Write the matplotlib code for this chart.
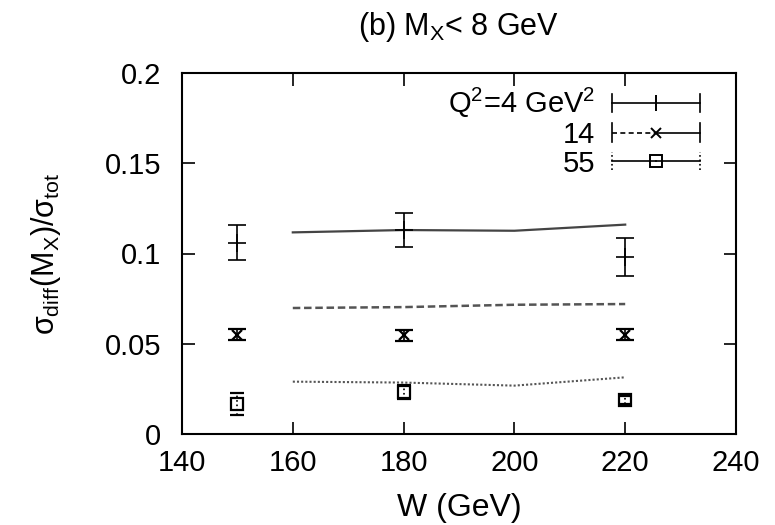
import matplotlib
matplotlib.use("Agg")
import matplotlib.pyplot as plt
from matplotlib.lines import Line2D
from matplotlib.legend_handler import HandlerBase

plt.rcParams['font.family'] = ['Liberation Sans', 'DejaVu Sans']
plt.rcParams['mathtext.fontset'] = 'custom'
plt.rcParams['mathtext.rm'] = 'Liberation Sans'
plt.rcParams['mathtext.it'] = 'Liberation Sans'

# ---- data ----
W_points = [150, 180, 220]
q4_vals = [0.106, 0.113, 0.098]
q4_errs = [0.0097, 0.0095, 0.0106]
q14_vals = [0.0550, 0.0548, 0.0550]
q14_errs = [0.0030, 0.0030, 0.0030]
q55_vals = [0.0165, 0.0234, 0.0188]
q55_errs = [0.0060, 0.0040, 0.0020]

W_curve = [160, 180, 200, 220]
q4_curve = [0.1117, 0.1130, 0.1126, 0.1160]
q14_curve = [0.0698, 0.0703, 0.0716, 0.0720]
q55_curve = [0.0290, 0.0285, 0.0268, 0.0314]

labels = [r'Q$^2$=4 GeV$^2$', '14', '55']
x_ticks = [140, 160, 180, 200, 220, 240]
y_ticks = [0, 0.05, 0.1, 0.15, 0.2]
y_ticklabels = ['0', '0.05', '0.1', '0.15', '0.2']

fig = plt.figure(figsize=(7.75, 5.25), dpi=100)
ax = fig.add_axes([182/775, (525-434)/525, (736-182)/775, (434-73)/525])

lw = 1.2
# theory curves
ax.plot(W_curve, q4_curve, color='#444444', lw=1.6, ls='-')
ax.plot(W_curve, q14_curve, color='#555555', lw=1.8, ls=(0, (3, 1.5)))
ax.plot(W_curve, q55_curve, color='#555555', lw=1.5, ls=(0, (1, 1)))

# data with error bars
ax.errorbar(W_points, q4_vals, yerr=q4_errs, fmt='+', color='black', ms=13,
            mew=lw, elinewidth=lw, capsize=6.5, capthick=lw)
ax.errorbar(W_points, q14_vals, yerr=q14_errs, fmt='x', color='black', ms=7,
            mew=1.6, elinewidth=lw, capsize=6.5, capthick=lw)
eb = ax.errorbar(W_points, q55_vals, yerr=q55_errs, fmt='s', color='black', ms=9,
                 mfc='none', mew=1.6, elinewidth=lw, capsize=5, capthick=lw)
eb[2][0].set_linestyle(':')


class Spec:
    def __init__(self, marker, ms, capL, halfL, halfR, capR):
        self.marker, self.ms = marker, ms
        self.capL, self.halfL, self.halfR, self.capR = capL, halfL, halfR, capR


class SpecHandler(HandlerBase):
    def create_artists(self, legend, h, xdescent, ydescent, width, height,
                       fontsize, trans):
        y = height / 2 - ydescent
        x0, x1 = -xdescent, width - xdescent
        xm = (x0 + x1) / 2
        ch = 6.5
        arts = [
            Line2D([x0, x0], [y - ch, y + ch], ls=h.capL, color='black', lw=lw),
            Line2D([x0, xm], [y, y], ls=h.halfL, color='black', lw=lw),
            Line2D([xm, x1], [y, y], ls=h.halfR, color='black', lw=lw),
            Line2D([x1, x1], [y - ch, y + ch], ls=h.capR, color='black', lw=lw),
            Line2D([xm], [y], marker=h.marker, ms=h.ms, mfc='none', mec='black',
                   mew=1.4, ls='none'),
        ]
        for a in arts:
            a.set_transform(trans)
        return arts


FS = 21
handles = [Spec('|', 12, '-', '-', '-', '-'),
           Spec('x', 7, '-', (0, (3, 2)), '-', '-'),
           Spec('s', 8, ':', '-', '-', ':')]
leg = ax.legend(handles, labels, handler_map={Spec: SpecHandler()},
                loc='upper right', bbox_to_anchor=(0.935, 0.965),
                frameon=False, markerfirst=False, fontsize=FS,
                handlelength=3.0, handletextpad=0.6, labelspacing=0.03,
                borderpad=0, borderaxespad=0)

ax.set_xlim(140, 240)
ax.set_ylim(0, 0.2)
ax.set_xticks(x_ticks)
ax.set_yticks(y_ticks)
ax.set_yticklabels(y_ticklabels)
ax.tick_params(direction='in', length=9, width=1.2, top=True, right=True,
               labelsize=FS)
ax.tick_params(axis='x', pad=11)
ax.tick_params(axis='y', pad=15)
for s in ax.spines.values():
    s.set_linewidth(1.5)

ax.set_xlabel('W (GeV)', fontsize=23, labelpad=11)
ax.set_ylabel(r'$\sigma_{\mathrm{diff}}$(M$_X$)/$\sigma_{\mathrm{tot}}$', fontsize=22,
              labelpad=30)
ax.set_title(r'(b) M$_X$< 8 GeV', fontsize=22, pad=27)

fig.savefig('out.png', dpi=100)
